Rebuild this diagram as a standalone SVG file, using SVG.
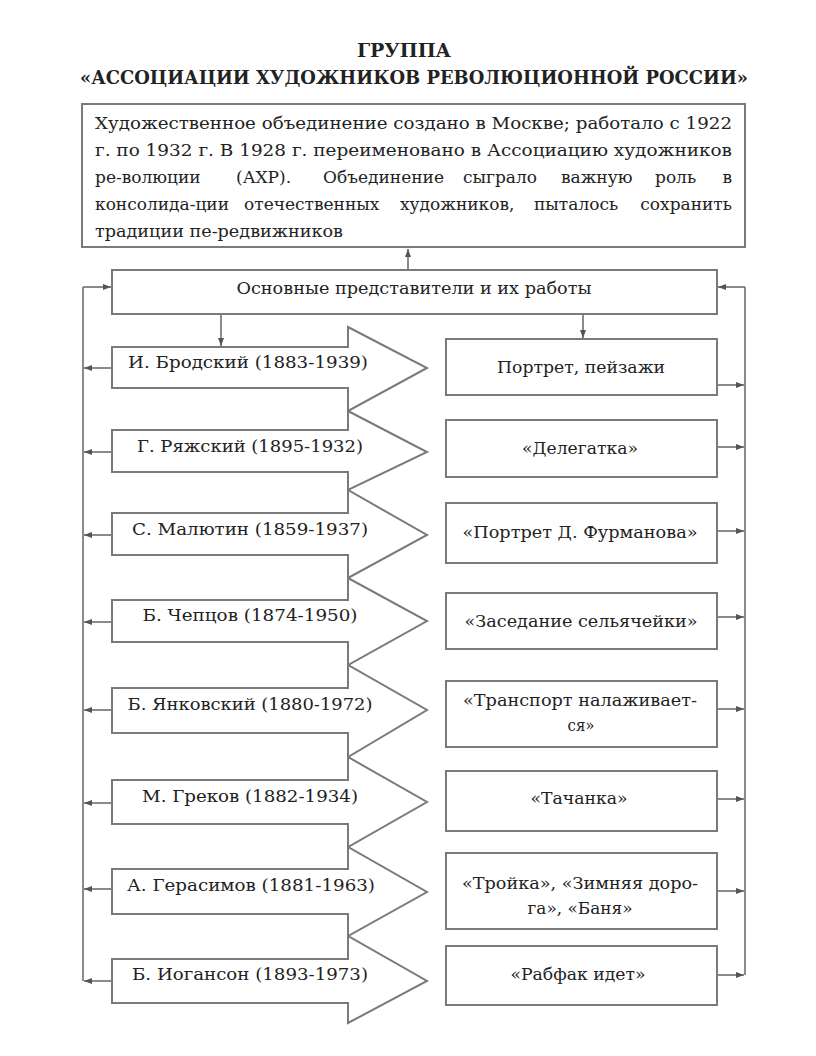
<svg xmlns="http://www.w3.org/2000/svg" width="816" height="1056" viewBox="0 0 816 1056">
<defs>
<marker id="ah" markerUnits="userSpaceOnUse" markerWidth="8" markerHeight="6" refX="8" refY="3" orient="auto">
<path d="M0,0 L8,3 L0,6 Z" fill="#555"/>
</marker>
<style>
.box{fill:#fff;stroke:#7a7a7a;stroke-width:2}
.conn{fill:none;stroke:#6e6e6e;stroke-width:1.6}
.t{font-family:"DejaVu Serif","Liberation Serif",serif;font-size:17px;fill:#222}
.c{text-anchor:middle}
.e{text-anchor:end}
.title{font-family:"DejaVu Serif","Liberation Serif",serif;font-size:18px;font-weight:bold;fill:#222;text-anchor:middle}
</style>
</defs>
<rect width="816" height="1056" fill="#fff"/>

<g id="title">
<text class="title" x="404" y="57" textLength="94" lengthAdjust="spacingAndGlyphs">ГРУППА</text>
<text class="title" x="414" y="84" textLength="668" lengthAdjust="spacingAndGlyphs">«АССОЦИАЦИИ ХУДОЖНИКОВ РЕВОЛЮЦИОННОЙ РОССИИ»</text>
</g>

<g id="description">
<rect class="box" x="82" y="104" width="663" height="143"/>
<text class="t" x="95" y="129" textLength="637" lengthAdjust="spacingAndGlyphs">Художественное объединение создано в Москве; работало с 1922</text>
<text class="t" x="95" y="156" textLength="637" lengthAdjust="spacingAndGlyphs">г. по 1932 г. В 1928 г. переименовано в Ассоциацию художников</text>
<text class="t" x="95" y="183">ре-волюции</text>
<text class="t" x="236" y="183">(АХР).</text>
<text class="t" x="323" y="183">Объединение</text>
<text class="t" x="463" y="183">сыграло</text>
<text class="t" x="561" y="183">важную</text>
<text class="t" x="655" y="183">роль</text>
<text class="t e" x="732" y="183">в</text>
<text class="t" x="95" y="210">консолида-ции</text>
<text class="t" x="244" y="210">отечественных</text>
<text class="t" x="400" y="210">художников,</text>
<text class="t" x="534" y="210">пыталось</text>
<text class="t e" x="732" y="210">сохранить</text>
<text class="t" x="95" y="237" textLength="248" lengthAdjust="spacingAndGlyphs">традиции пе-редвижников</text>
</g>

<g id="main">
<rect class="box" x="112" y="270" width="605" height="44"/>
<text class="t c" x="414" y="294" textLength="355" lengthAdjust="spacingAndGlyphs">Основные представители и их работы</text>
</g>

<g id="artist-1">
<polygon class="box" points="112,347 348,347 348,327 427,368 348,411 348,388 112,388"/>
<text class="t c" x="248" y="368" textLength="240" lengthAdjust="spacingAndGlyphs">И. Бродский (1883-1939)</text>
</g>
<g id="artist-2">
<polygon class="box" points="112,430 348,430 348,411 427,452 348,490 348,472 112,472"/>
<text class="t c" x="250" y="452" textLength="226" lengthAdjust="spacingAndGlyphs">Г. Ряжский (1895-1932)</text>
</g>
<g id="artist-3">
<polygon class="box" points="112,513 348,513 348,490 427,535 348,578 348,555 112,555"/>
<text class="t c" x="250" y="535" textLength="236" lengthAdjust="spacingAndGlyphs">С. Малютин (1859-1937)</text>
</g>
<g id="artist-4">
<polygon class="box" points="112,600 348,600 348,578 427,621 348,665 348,642 112,642"/>
<text class="t c" x="250" y="621" textLength="215" lengthAdjust="spacingAndGlyphs">Б. Чепцов (1874-1950)</text>
</g>
<g id="artist-5">
<polygon class="box" points="112,688 348,688 348,665 427,710 348,757 348,733 112,733"/>
<text class="t c" x="250" y="710" textLength="245" lengthAdjust="spacingAndGlyphs">Б. Янковский (1880-1972)</text>
</g>
<g id="artist-6">
<polygon class="box" points="112,780 348,780 348,757 427,802 348,847 348,824 112,824"/>
<text class="t c" x="250" y="802" textLength="216" lengthAdjust="spacingAndGlyphs">М. Греков (1882-1934)</text>
</g>
<g id="artist-7">
<polygon class="box" points="112,869 348,869 348,847 427,892 348,936 348,914 112,914"/>
<text class="t c" x="251" y="891" textLength="248" lengthAdjust="spacingAndGlyphs">А. Герасимов (1881-1963)</text>
</g>
<g id="artist-8">
<polygon class="box" points="112,959 348,959 348,936 427,981 348,1023 348,1003 112,1003"/>
<text class="t c" x="250" y="980" textLength="236" lengthAdjust="spacingAndGlyphs">Б. Иогансон (1893-1973)</text>
</g>

<g id="work-1">
<rect class="box" x="446" y="339" width="271" height="56"/>
<text class="t c" x="581" y="373" textLength="168" lengthAdjust="spacingAndGlyphs">Портрет, пейзажи</text>
</g>
<g id="work-2">
<rect class="box" x="446" y="420" width="271" height="57"/>
<text class="t c" x="580" y="454" textLength="116" lengthAdjust="spacingAndGlyphs">«Делегатка»</text>
</g>
<g id="work-3">
<rect class="box" x="446" y="503" width="271" height="60"/>
<text class="t c" x="580" y="538" textLength="235" lengthAdjust="spacingAndGlyphs">«Портрет Д. Фурманова»</text>
</g>
<g id="work-4">
<rect class="box" x="446" y="593" width="271" height="56"/>
<text class="t c" x="581" y="627" textLength="233" lengthAdjust="spacingAndGlyphs">«Заседание сельячейки»</text>
</g>
<g id="work-5">
<rect class="box" x="446" y="681" width="271" height="66"/>
<text class="t c" x="580" y="706" textLength="234" lengthAdjust="spacingAndGlyphs">«Транспорт налаживает-</text>
<text class="t c" x="581" y="731" textLength="27" lengthAdjust="spacingAndGlyphs">ся»</text>
</g>
<g id="work-6">
<rect class="box" x="446" y="771" width="271" height="60"/>
<text class="t c" x="579" y="804" textLength="97" lengthAdjust="spacingAndGlyphs">«Тачанка»</text>
</g>
<g id="work-7">
<rect class="box" x="446" y="853" width="271" height="76"/>
<text class="t c" x="580" y="889" textLength="236" lengthAdjust="spacingAndGlyphs">«Тройка», «Зимняя доро-</text>
<text class="t c" x="580" y="914" textLength="105" lengthAdjust="spacingAndGlyphs">га», «Баня»</text>
</g>
<g id="work-8">
<rect class="box" x="446" y="946" width="271" height="59"/>
<text class="t c" x="578" y="980" textLength="135" lengthAdjust="spacingAndGlyphs">«Рабфак идет»</text>
</g>

<g id="connectors">
<line class="conn" x1="408" y1="270" x2="408" y2="249" marker-end="url(#ah)"/>
<line class="conn" x1="83" y1="287" x2="83" y2="981"/>
<line class="conn" x1="83" y1="287" x2="111" y2="287" marker-end="url(#ah)"/>
<line class="conn" x1="745" y1="287" x2="745" y2="975"/>
<line class="conn" x1="745" y1="287" x2="718" y2="287" marker-end="url(#ah)"/>
<line class="conn" x1="221" y1="315" x2="221" y2="346" marker-end="url(#ah)"/>
<line class="conn" x1="583" y1="315" x2="583" y2="338" marker-end="url(#ah)"/>
<line class="conn" x1="111" y1="368" x2="84" y2="368" marker-end="url(#ah)"/>
<line class="conn" x1="111" y1="452" x2="84" y2="452" marker-end="url(#ah)"/>
<line class="conn" x1="111" y1="535" x2="84" y2="535" marker-end="url(#ah)"/>
<line class="conn" x1="111" y1="622" x2="84" y2="622" marker-end="url(#ah)"/>
<line class="conn" x1="111" y1="710" x2="84" y2="710" marker-end="url(#ah)"/>
<line class="conn" x1="111" y1="803" x2="84" y2="803" marker-end="url(#ah)"/>
<line class="conn" x1="111" y1="889" x2="84" y2="889" marker-end="url(#ah)"/>
<line class="conn" x1="111" y1="981" x2="84" y2="981" marker-end="url(#ah)"/>
<line class="conn" x1="718" y1="385" x2="744" y2="385" marker-end="url(#ah)"/>
<line class="conn" x1="718" y1="447" x2="744" y2="447" marker-end="url(#ah)"/>
<line class="conn" x1="718" y1="531" x2="744" y2="531" marker-end="url(#ah)"/>
<line class="conn" x1="718" y1="617" x2="744" y2="617" marker-end="url(#ah)"/>
<line class="conn" x1="718" y1="709" x2="744" y2="709" marker-end="url(#ah)"/>
<line class="conn" x1="718" y1="799" x2="744" y2="799" marker-end="url(#ah)"/>
<line class="conn" x1="718" y1="891" x2="744" y2="891" marker-end="url(#ah)"/>
<line class="conn" x1="718" y1="975" x2="744" y2="975" marker-end="url(#ah)"/>
</g>
</svg>
